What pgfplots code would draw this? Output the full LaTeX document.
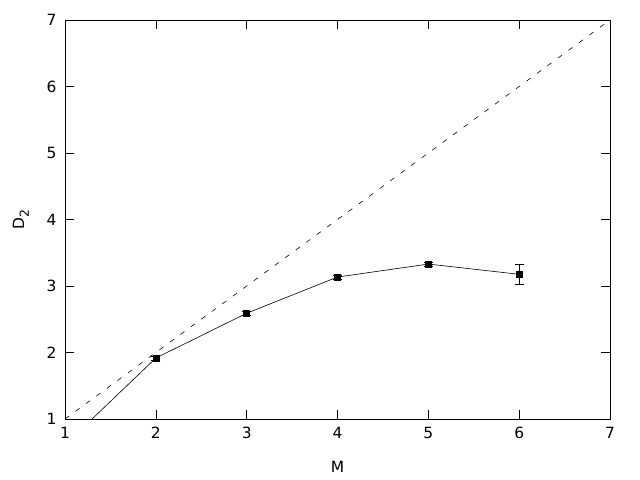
\documentclass[border=0pt]{standalone}
\usepackage{fontspec}
\setmainfont{DejaVu Sans}
\usepackage{pgfplots}
\pgfplotsset{compat=1.18}

\begin{document}
\begin{tikzpicture}[x=1bp,y=1bp]
\path[use as bounding box] (-65,-61) rectangle (575,419);
\begin{axis}[
    at={(0,0)}, anchor=south west,
    scale only axis,
    width=545bp, height=399bp,
    xmin=1, xmax=7, ymin=1, ymax=7,
    xtick={1,...,7}, ytick={1,...,7},
    tick align=inside,
    major tick length=9bp,
    tick style={black, line width=0.6pt},
    axis line style={line width=0.6pt},
    font=\fontsize{15.5}{18}\selectfont,
    /pgf/number format/assume math mode=true,
    xticklabel style={yshift=-5bp},
    yticklabel style={xshift=-5bp},
    xlabel={M},
    ylabel={D\raisebox{-0.3em}{\fontsize{12.5}{13}\selectfont 2}},
    xlabel style={yshift=-15bp},
    ylabel style={yshift=11bp},
]
\addplot[black, line width=0.6pt, dash pattern=on 5bp off 8bp, forget plot]
    coordinates {(1,1) (7,7)};
\addplot[black, line width=0.6pt, mark=square*, mark size=3bp,
    error bars/.cd, y dir=both, y explicit,
    error mark options={rotate=90, mark size=4.5bp, line width=0.6pt},
    error bar style={line width=0.6pt}]
    coordinates {
    (1,0.61) +- (0,0.02)
    (2,1.917) +- (0,0.03)
    (3,2.59) +- (0,0.03)
    (4,3.135) +- (0,0.03)
    (5,3.33) +- (0,0.03)
    (6,3.176) +- (0,0.143)
    };
\end{axis}
\end{tikzpicture}
\end{document}
